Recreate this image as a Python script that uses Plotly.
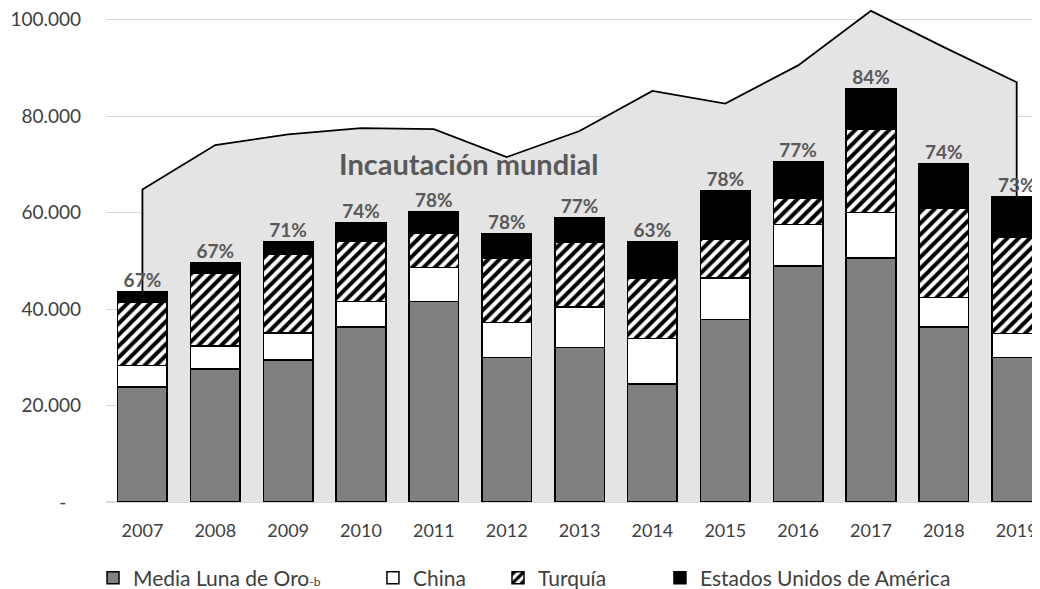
import plotly.graph_objects as go

years = [2007, 2008, 2009, 2010, 2011, 2012, 2013, 2014, 2015, 2016, 2017, 2018, 2019]
media_luna = [23800, 27600, 29400, 36300, 41600, 30000, 32000, 24500, 37800, 48900, 50600, 36300, 30000]
china = [4500, 4700, 5600, 5300, 7000, 7200, 8400, 9400, 8600, 8600, 9400, 6100, 4900]
turquia = [13200, 15200, 16300, 12400, 7200, 13300, 13500, 12400, 8000, 5400, 17300, 18400, 19900]
eeuu = [2000, 2100, 2700, 3800, 4300, 5100, 5000, 7600, 10100, 7600, 8400, 9400, 8400]
mundial = [64800, 74000, 76200, 77500, 77300, 71500, 76900, 85200, 82600, 90500, 101800, 94300, 87000]
pct_labels = ["67%", "67%", "71%", "74%", "78%", "78%", "77%", "63%", "78%", "77%", "84%", "74%", "73%"]
y_tickvals = [0, 20000, 40000, 60000, 80000, 100000]
y_ticktext = ["-\u00a0\u00a0\u00a0", "20.000", "40.000", "60.000", "80.000", "100.000"]

FONT = "Lato"
TXT = "#404040"

fig = go.Figure()

# area (world seizures), closed down to zero at both ends
ax = [years[0]] + years + [years[-1]]
ay = [0] + mundial + [0]
fig.add_trace(go.Scatter(
    x=ax, y=ay, mode="lines", fill="toself", fillcolor="#e4e4e4",
    line=dict(color="black", width=1.8), showlegend=False, hoverinfo="skip",
    xaxis="x", yaxis="y"))

bw = 0.68
line = dict(color="black", width=1.5)
fig.add_trace(go.Bar(x=years, y=media_luna, name="Media Luna de Oro<span style='font-size:12px'>-b</span>",
                     marker=dict(color="#808080", line=line), width=bw,
                     xaxis="x2", yaxis="y2", legend="legend"))
fig.add_trace(go.Bar(x=years, y=china, name="China",
                     marker=dict(color="white", line=line), width=bw,
                     xaxis="x2", yaxis="y2", legend="legend2"))
fig.add_trace(go.Bar(x=years, y=turquia, name="Turquía",
                     marker=dict(color="white", line=line,
                                 pattern=dict(shape="/", fgcolor="black", bgcolor="white",
                                              fgopacity=1, size=8, solidity=0.5,
                                              fillmode="replace")),
                     width=bw, xaxis="x2", yaxis="y2", legend="legend3"))
fig.add_trace(go.Bar(x=years, y=eeuu, name="Estados Unidos de América",
                     marker=dict(color="black", line=line), width=bw,
                     xaxis="x2", yaxis="y2", legend="legend4"))

totals = [a + b + c + d for a, b, c, d in zip(media_luna, china, turquia, eeuu)]
fig.add_trace(go.Scatter(
    x=years, y=totals, mode="text", text=pct_labels, textposition="top center",
    textfont=dict(family=FONT, size=19, color="#595959", weight="bold"),
    showlegend=False, hoverinfo="skip", cliponaxis=False, xaxis="x2", yaxis="y2"))

fig.add_annotation(
    x=0.3876, y=0.685, xref="paper", yref="paper", text="<b>Incautación mundial</b>",
    showarrow=False, font=dict(family=FONT, size=29, color="#595959"),
    xanchor="center", yanchor="middle")

xr = [2006.5, 2019.32]
yr = [0, 102400]
legend_common = dict(orientation="h", yanchor="middle", xanchor="left", y=-0.154,
                     font=dict(family=FONT, size=21, color=TXT), bgcolor="rgba(0,0,0,0)")

fig.update_layout(
    width=1032, height=581,
    margin=dict(l=98, r=0, t=0, b=87, autoexpand=False),
    paper_bgcolor="white", plot_bgcolor="white",
    barmode="stack",
    font=dict(family=FONT, color=TXT),
    xaxis=dict(range=xr, tickvals=years, ticktext=[str(y) for y in years],
               showgrid=False, zeroline=False, showline=False, ticks="",
               ticklabeloverflow="allow",
               tickfont=dict(family=FONT, size=18, color=TXT), ticklabelstandoff=16),
    yaxis=dict(range=yr, tickvals=y_tickvals, ticktext=y_ticktext,
               showgrid=True, gridcolor="#d9d9d9", gridwidth=1,
               zeroline=True, zerolinecolor="#d9d9d9", zerolinewidth=1.5,
               showline=False, ticks="", ticklabeloverflow="allow",
               tickfont=dict(family=FONT, size=19, color=TXT), ticklabelstandoff=24),
    xaxis2=dict(range=xr, overlaying="x", visible=False),
    yaxis2=dict(range=yr, overlaying="y", visible=False),
    legend=dict(x=-0.0139, **legend_common),
    legend2=dict(x=0.2858, **legend_common),
    legend3=dict(x=0.4197, **legend_common),
    legend4=dict(x=0.5931, **legend_common),
)

fig.write_html("out.html")
